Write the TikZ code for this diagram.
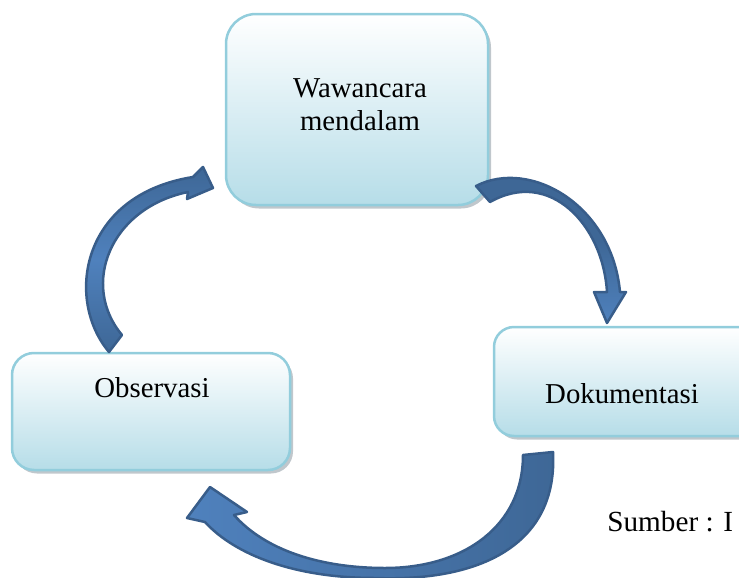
\documentclass[tikz,border=0pt]{standalone}
\usepackage{fontspec}
\setmainfont{Liberation Serif}
\definecolor{boxline}{RGB}{146,205,220}
\definecolor{boxbot}{RGB}{182,221,232}
\definecolor{shadowgray}{RGB}{192,199,204}
\definecolor{arrowline}{RGB}{56,93,138}
\definecolor{arrowdark}{RGB}{62,103,150}
\definecolor{arrowlight}{RGB}{79,129,189}
\begin{document}
\begin{tikzpicture}[x=0.5pt,y=-0.5pt,
  box/.style={draw=boxline, line width=1.25pt, top color=white, bottom color=boxbot, inner sep=0pt},
  shadowbox/.style={fill=shadowgray, draw=none, inner sep=0pt},
  lbl/.style={font=\fontsize{14.4}{16.5}\selectfont, anchor=base, inner sep=0pt},
  srclbl/.style={font=\fontsize{14.6}{17}\selectfont, anchor=base west, inner sep=0pt},
  curvedarrow/.style={draw=arrowline, line width=1.25pt, line join=round}]
\useasboundingbox (0,0) rectangle (739,578);

% shadows
\node[shadowbox, rounded corners=15pt, minimum width=131pt, minimum height=95.5pt] (topsh) at (360,113) {};
\node[shadowbox, rounded corners=11pt, minimum width=139pt, minimum height=58.5pt] (obssh) at (154,415) {};
\node[shadowbox, rounded corners=10pt, minimum width=138pt, minimum height=54.5pt] (doksh) at (635,385) {};

% boxes
\node[box, rounded corners=15pt, minimum width=131pt, minimum height=95.5pt] (top) at (357,109.5) {};
\node[box, rounded corners=11pt, minimum width=139pt, minimum height=58.5pt] (obs) at (151,411.5) {};
\node[box, rounded corners=10pt, minimum width=138pt, minimum height=54.5pt] (dok) at (632,381.5) {};

% labels
\node[lbl] (t1) at (360,97) {Wawancara};
\node[lbl] (t2) at (360,130) {mendalam};
\node[lbl] (t3) at (152,397) {Observasi};
\node[lbl] (t4) at (622,403) {Dokumentasi};
\node[srclbl] (src) at (607,531) {Sumber : I};

% arrow: Wawancara -> Dokumentasi
\path[curvedarrow, top color=arrowdark, bottom color=arrowlight, middle color=arrowdark]
  (476,186) .. controls (530,158) and (612,205) .. (620,292)
  -- (626,292) -- (607,323) -- (594,292) -- (607,292)
  .. controls (603,225) and (550,168) .. (490,202) -- cycle;

% arrow: Dokumentasi -> Observasi
\path[curvedarrow, left color=arrowlight, right color=arrowdark]
  (523,455) -- (553,452)
  .. controls (558,545) and (480,582) .. (375,578)
  .. controls (295,578) and (235,555) .. (205,522)
  -- (187,518) -- (210,487) -- (247,512) -- (234,515)
  .. controls (265,550) and (320,568) .. (385,568)
  .. controls (465,568) and (523,525) .. (523,455) -- cycle;

% arrow: Observasi -> Wawancara
\path[curvedarrow, top color=arrowdark, bottom color=arrowdark, middle color=arrowlight]
  (109,352) .. controls (65,300) and (80,195) .. (193,177)
  -- (203,167) -- (213,188) -- (187,199) -- (188,192)
  .. controls (110,208) and (80,285) .. (122,335) -- cycle;
\end{tikzpicture}
\end{document}
